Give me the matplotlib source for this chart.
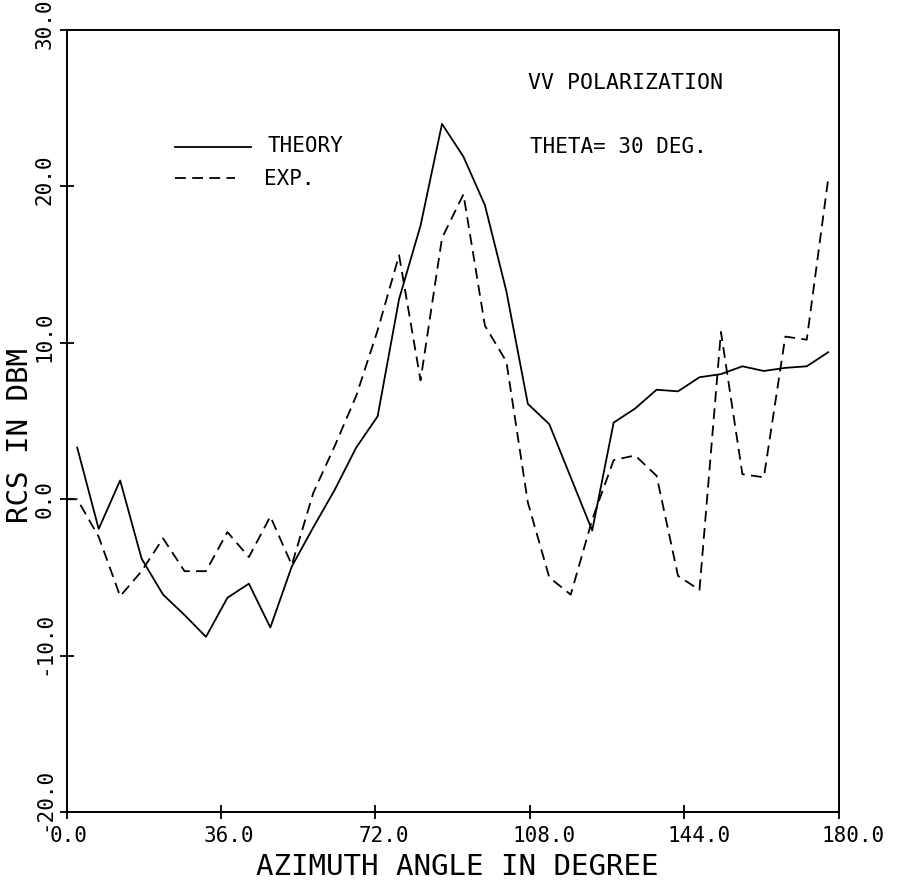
import matplotlib.pyplot as plt
from matplotlib.transforms import offset_copy

# azimuth angles (deg) and RCS (dBm)
angle_theory = [2.5, 7.5, 12.5, 17.5, 22.5, 27.5, 32.5, 37.5, 42.5, 47.5,
                52.5, 57.5, 62.5, 67.5, 72.5, 77.5, 82.5, 87.5, 92.5, 97.5,
                102.5, 107.5, 112.5, 117.5, 122.5, 127.5, 132.5, 137.5, 142.5, 147.5,
                152.5, 157.5, 162.5, 167.5, 172.5, 177.5]
rcs_theory = [3.3, -1.9, 1.2, -3.8, -6.1, -7.4, -8.8, -6.3, -5.4, -8.2,
              -4.3, -1.8, 0.6, 3.3, 5.3, 12.8, 17.5, 24.0, 21.9, 18.8,
              13.3, 6.1, 4.8, 1.4, -2.0, 4.9, 5.8, 7.0, 6.9, 7.8,
              8.0, 8.5, 8.2, 8.4, 8.5, 9.4]

angle_exp = [0.0, 2.5, 7.5, 12.5, 17.5, 22.5, 27.5, 32.5, 37.5, 42.5, 47.5,
             52.5, 57.5, 62.5, 67.5, 72.5, 77.5, 82.5, 87.5, 92.5, 97.5,
             102.5, 107.5, 112.5, 117.5, 122.5, 127.5, 132.5, 137.5, 142.5, 147.5,
             152.5, 157.5, 162.5, 167.5, 172.5, 177.5]
rcs_exp = [0.0, 0.0, -2.4, -6.2, -4.6, -2.5, -4.6, -4.6, -2.1, -3.7, -1.1,
           -4.2, 0.4, 3.4, 6.6, 10.8, 15.6, 7.6, 16.7, 19.5, 11.1,
           8.8, -0.2, -5.0, -6.1, -1.3, 2.5, 2.8, 1.5, -4.9, -5.8,
           10.7, 1.6, 1.4, 10.4, 10.2, 20.5]

x_ticks = [0, 36, 72, 108, 144, 180]
x_tick_labels = ['0.0', '36.0', '72.0', '108.0', '144.0', '180.0']
y_ticks = [-20, -10, 0, 10, 20, 30]
y_tick_labels = ['-20.0', '-10.0', '0.0', '10.0', '20.0', '30.0']

plt.rcParams['font.family'] = ['DejaVu Sans Mono']

fig = plt.figure(figsize=(9.06, 8.87), dpi=100)
ax = fig.add_axes([0.0734, 0.0834, 0.8526, 0.8816])

lw = 1.3
dash = (0, (6, 3.5))
ax.plot(angle_theory, rcs_theory, color='black', lw=lw)
ax.plot(angle_exp, rcs_exp, color='black', lw=lw, linestyle=dash)

ax.set_xlim(0, 180)
ax.set_ylim(-20, 30)
for s in ax.spines.values():
    s.set_linewidth(1.4)

ax.set_xticks(x_ticks)
ax.set_yticks(y_ticks)
ax.set_xticklabels([])
ax.set_yticklabels([])
ax.tick_params(direction='inout', length=10, width=1.3)

# plotter style tick labels: text starts a little before the tick
for x, lab in zip(x_ticks, x_tick_labels):
    tr = offset_copy(ax.get_xaxis_transform(), fig=fig, x=-17, y=-13, units='dots')
    ax.text(x, 0, lab, transform=tr, ha='left', va='top', fontsize=15)

for y, lab in zip(y_ticks, y_tick_labels):
    tr = offset_copy(ax.get_yaxis_transform(), fig=fig, x=-22, y=-18, units='dots')
    ax.text(0, y, lab, transform=tr, rotation=90, ha='center', va='bottom', fontsize=15)

ax.text(0.5, 0, 'AZIMUTH ANGLE IN DEGREE', fontsize=21, ha='center', va='top',
        transform=offset_copy(ax.transAxes, fig=fig, x=5, y=-40, units='dots'))
ax.text(0, 0.483, 'RCS IN DBM', fontsize=21, rotation=90, ha='center', va='center',
        transform=offset_copy(ax.transAxes, fig=fig, x=-47, units='dots'))

# legend drawn by hand
ax.plot([0.140, 0.239], [0.851, 0.851], transform=ax.transAxes, color='black', lw=lw)
ax.plot([0.140, 0.218], [0.811, 0.811], transform=ax.transAxes, color='black', lw=lw,
        linestyle=dash)
ax.text(0.260, 0.853, 'THEORY', transform=ax.transAxes, ha='left', va='center', fontsize=15)
ax.text(0.256, 0.811, 'EXP.', transform=ax.transAxes, ha='left', va='center', fontsize=15)

ax.text(0.597, 0.934, 'VV POLARIZATION', transform=ax.transAxes, ha='left', va='center',
        fontsize=15.5)
ax.text(0.600, 0.852, 'THETA= 30 DEG.', transform=ax.transAxes, ha='left', va='center',
        fontsize=15)

fig.savefig('out.png', dpi=100)
